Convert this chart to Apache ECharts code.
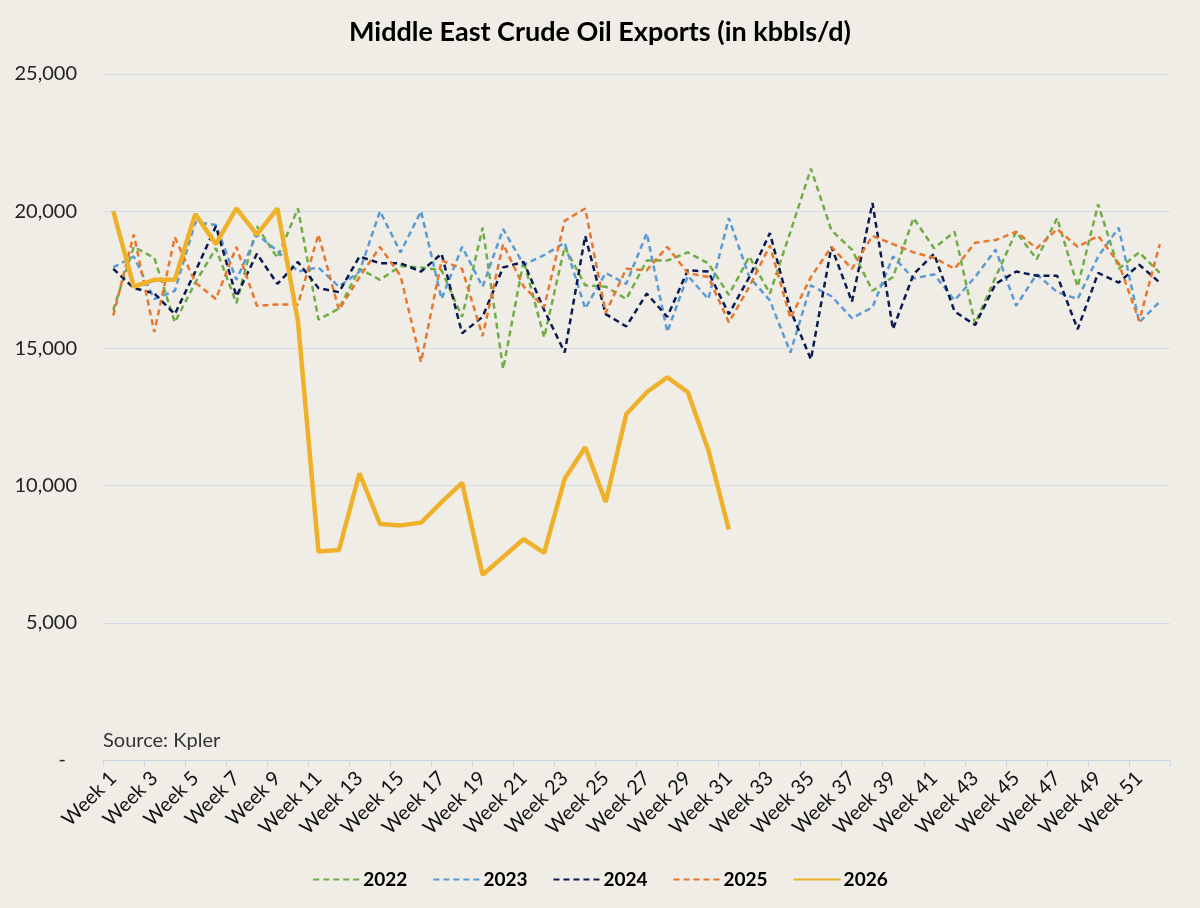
<!DOCTYPE html>
<html>
<head>
<meta charset="utf-8">
<script src="https://cdn.jsdelivr.net/npm/echarts@6/dist/echarts.min.js"></script>
<style>
html,body{margin:0;padding:0;background:#efede6;}
#c{width:1200px;height:908px;}
</style>
</head>
<body>
<div id="c"></div>
<script>
var weeks = [];
for (var i = 1; i <= 52; i++) weeks.push('Week ' + i);

var y2022 = [16400,18700,18300,15950,17400,18650,16650,19450,18300,20100,16050,16450,17900,17500,18000,17950,17850,16150,19400,14250,18200,15400,18700,17300,17250,16800,18200,18200,18500,18100,16950,18350,17000,19250,21550,19300,18600,17100,17600,19750,18650,19250,15900,17600,19250,18250,19750,17250,20250,17900,18500,17750];
var y2023 = [17950,18350,16800,17100,19600,19500,17500,19150,18550,17800,17950,17250,17800,20000,18500,20000,16800,18700,17250,19350,18050,18400,18850,16450,17750,17350,19200,15600,17650,16800,19750,17600,16750,14850,17300,16900,16100,16500,18350,17550,17700,16750,17600,18600,16550,17700,17050,16800,18350,19400,15950,16700];
var y2024 = [17900,17200,17000,16250,17800,19450,16900,18450,17350,18150,17200,17050,18350,18100,18100,17800,18450,15550,16150,17950,18150,16400,14850,19100,16250,15800,17000,16150,17850,17800,16250,17600,19200,16400,14600,18700,16700,20300,15700,17700,18450,16350,15850,17350,17800,17650,17650,15700,17750,17400,18050,17400];
var y2025 = [16200,19150,15600,19050,17400,16800,18700,16550,16600,16600,19150,16400,17600,18700,17650,14500,18200,17900,15450,18800,17250,16500,19650,20100,16300,17900,17850,18700,17750,17600,15950,17250,18750,16100,17600,18700,17900,19100,18800,18500,18300,17900,18850,18950,19250,18650,19350,18700,19100,18100,16000,18800];
var y2026 = [20000,17250,17500,17500,19900,18800,20100,19150,20100,16000,7600,7650,10450,8600,8550,8650,9400,10100,6750,7400,8050,7550,10250,11400,9400,12600,13400,13950,13400,11300,8400];

var years = ['2022','2023','2024','2025','2026'];
var colors = ['#70ad47','#5b9bd5','#0c1a52','#e8772e','#f0b12a'];
var dataSets = [y2022,y2023,y2024,y2025,y2026];

var series = years.map(function(y, idx){
  var solid = idx === 4;
  return {
    name: y,
    type: 'line',
    data: dataSets[idx],
    symbol: 'none',
    smooth: false,
    z: solid ? 10 : 2,
    lineStyle: {
      color: colors[idx],
      width: solid ? 4.5 : 2.5,
      type: solid ? 'solid' : [6, 4]
    },
    itemStyle: {color: colors[idx]}
  };
});

var chart = echarts.init(document.getElementById('c'));
chart.setOption({
  backgroundColor: '#efede6',
  animation: false,
  title: {
    text: 'Middle East Crude Oil Exports (in kbbls/d)',
    left: 'center',
    top: 14,
    textStyle: {fontFamily: 'Lato', fontWeight: 'bold', fontSize: 27, color: '#000'}
  },
  legend: {
    bottom: 14,
    left: 'center',
    itemWidth: 47,
    itemHeight: 12,
    itemGap: 25,
    itemStyle: {opacity: 0},
    textStyle: {fontFamily: 'Lato', fontWeight: 'bold', fontSize: 19, color: '#000', padding: [0, 0, 0, -2]},
    data: years
  },
  graphic: [{
    type: 'text',
    left: 103,
    top: 731,
    style: {text: 'Source: Kpler', fontFamily: 'Lato', fontSize: 20, fill: '#333'}
  }],
  grid: {left: 103, right: 30, top: 74, bottom: 148, containLabel: false},
  xAxis: {
    type: 'category',
    data: weeks,
    boundaryGap: true,
    axisLine: {lineStyle: {color: '#c9d2df', width: 1.2}},
    axisTick: {show: true, length: 6, lineStyle: {color: '#c9d2df'}},
    axisLabel: {
      rotate: 45,
      interval: 1,
      margin: 15,
      fontFamily: 'Lato',
      fontSize: 20,
      color: '#111'
    },
    splitLine: {show: false}
  },
  yAxis: {
    type: 'value',
    min: 0,
    max: 25000,
    interval: 5000,
    axisLine: {show: false},
    axisTick: {show: false},
    axisLabel: {
      margin: 26,
      fontFamily: 'Lato',
      fontSize: 20,
      color: '#222',
      formatter: function(v){
        if (v === 0) return '{z|-}';
        return v.toLocaleString('en-US');
      },
      rich: {z: {fontFamily: 'Lato', fontSize: 20, color: '#222', padding: [0, 11, 0, 0]}}
    },
    splitLine: {lineStyle: {color: '#d3dbe6', width: 1.2}}
  },
  series: series
});
</script>
</body>
</html>
